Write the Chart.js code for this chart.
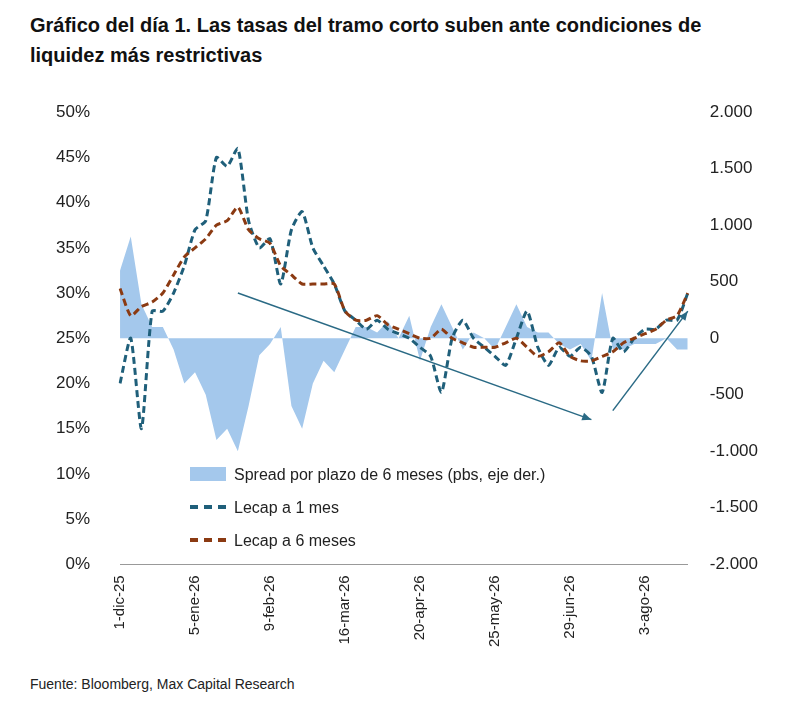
<!DOCTYPE html><html><head><meta charset="utf-8">
<script src="https://cdn.jsdelivr.net/npm/chart.js@4"></script>
<style>
body{margin:0;background:#fff;font-family:"Liberation Sans",Arial,sans-serif;}
#t{position:absolute;left:30px;top:10px;width:750px;font-weight:bold;font-size:20px;line-height:30px;color:#111}
#w{position:absolute;left:20px;top:80px;width:760px;height:570px}
#f{position:absolute;left:30px;top:676px;font-size:14px;color:#222}
#lg{position:absolute;left:190px;top:458px;font-size:16px;color:#222;line-height:33px;background:#fff}
.s{display:inline-block;width:36px;height:14px;background:#a4c8ec;vertical-align:-1px;margin-right:8px}
.d{display:inline-block;width:36px;border-top:4px dashed;vertical-align:4px;margin-right:8px}
</style></head><body>
<div id="t">Gráfico del día 1. Las tasas del tramo corto suben ante condiciones de liquidez más restrictivas</div>
<div id="w"><canvas id="c"></canvas></div>
<div id="lg"><div><span class="s"></span>Spread por plazo de 6 meses (pbs, eje der.)</div><div><span class="d" style="border-color:#1f5f7a"></span>Lecap a 1 mes</div><div><span class="d" style="border-color:#8b3a12"></span>Lecap a 6 meses</div></div>
<div id="f">Fuente: Bloomberg, Max Capital Research</div>
<script>
const tickLabels=["1-dic-25","5-ene-26","9-feb-26","16-mar-26","20-apr-26","25-may-26","29-jun-26","3-ago-26"];
const lecap6=[30.5,27.5,28.5,29,30,32,34,35,36,37.5,38,39.5,37,36,35.5,33,32,31,31,31,31,28,27,27,27.5,26.5,26,25.5,25,25,26,25,24.5,24,24,24,24.5,25,24,23,23.5,24.5,23,22.5,22.5,23,23.5,24.5,25,25.5,26,27,27.5,30];
const lecap1=[20,25,15,28,28,30,33,37,38,45,44,46,38,35,36,31,37,39,35,33,31,28,27,26,27,26,25.5,25,24,23,19,25,27,25,24,23,22,25,28,24,22,24,23,24,23,19,25,23.5,25,26,26,27,27,30];
const spread=[600,900,300,100,100,-100,-400,-300,-500,-900,-800,-1000,-600,-150,-50,100,-600,-800,-400,-200,-300,-100,100,100,50,150,0,200,-200,100,300,100,-100,50,0,-100,100,300,100,50,50,-50,-100,-50,-200,400,-100,-100,-50,-50,-50,0,-100,-100];
const arrows=[[11,30,44,16],[46,17,53,28]];
const labels=spread.map((_,i)=>{const d=i*5;return d%35===0?tickLabels[d/35]:"";});
const arrowPlugin={id:"ar",afterDatasetsDraw(ch){const x=ch.scales.x,y=ch.scales.y,c=ch.ctx;c.save();c.strokeStyle="#2a6a85";c.fillStyle="#2a6a85";c.lineWidth=1.5;
arrows.forEach(a=>{const x1=x.getPixelForValue(a[0]),y1=y.getPixelForValue(a[1]),x2=x.getPixelForValue(a[2]),y2=y.getPixelForValue(a[3]);c.beginPath();c.moveTo(x1,y1);c.lineTo(x2,y2);c.stroke();const an=Math.atan2(y2-y1,x2-x1);c.beginPath();c.moveTo(x2,y2);c.lineTo(x2-10*Math.cos(an-0.4),y2-10*Math.sin(an-0.4));c.lineTo(x2-10*Math.cos(an+0.4),y2-10*Math.sin(an+0.4));c.fill();});c.restore();}};
Chart.defaults.font.family='"Liberation Sans",Arial,sans-serif';Chart.defaults.color="#222";
new Chart(document.getElementById("c"),{type:"line",data:{labels,datasets:[
{label:"Lecap a 6 meses",data:lecap6,borderColor:"#8b3a12",borderDash:[7,4],borderWidth:3,pointRadius:0,yAxisID:"y",tension:0.2},
{label:"Lecap a 1 mes",data:lecap1,borderColor:"#1f5f7a",borderDash:[7,4],borderWidth:3,pointRadius:0,yAxisID:"y",tension:0.2},
{label:"Spread",data:spread,borderWidth:0,backgroundColor:"#a4c8ec",fill:"origin",pointRadius:0,yAxisID:"y2"}]},
options:{responsive:true,maintainAspectRatio:false,animation:false,plugins:{legend:{display:false},tooltip:{enabled:false}},
layout:{padding:{left:14,right:8,top:4}},
scales:{x:{grid:{display:false},border:{color:"#999"},ticks:{autoSkip:false,maxRotation:90,minRotation:90,font:{size:15},callback:(v,i)=>labels[i]}},
y:{min:0,max:50,grid:{display:false},border:{display:false},ticks:{stepSize:5,padding:22,font:{size:17},callback:v=>v+"%"}},
y2:{position:"right",min:-2000,max:2000,grid:{display:false},border:{display:false},ticks:{stepSize:500,padding:14,font:{size:17},callback:v=>v.toLocaleString("de-DE")}}}},
plugins:[arrowPlugin]});
</script></body></html>
